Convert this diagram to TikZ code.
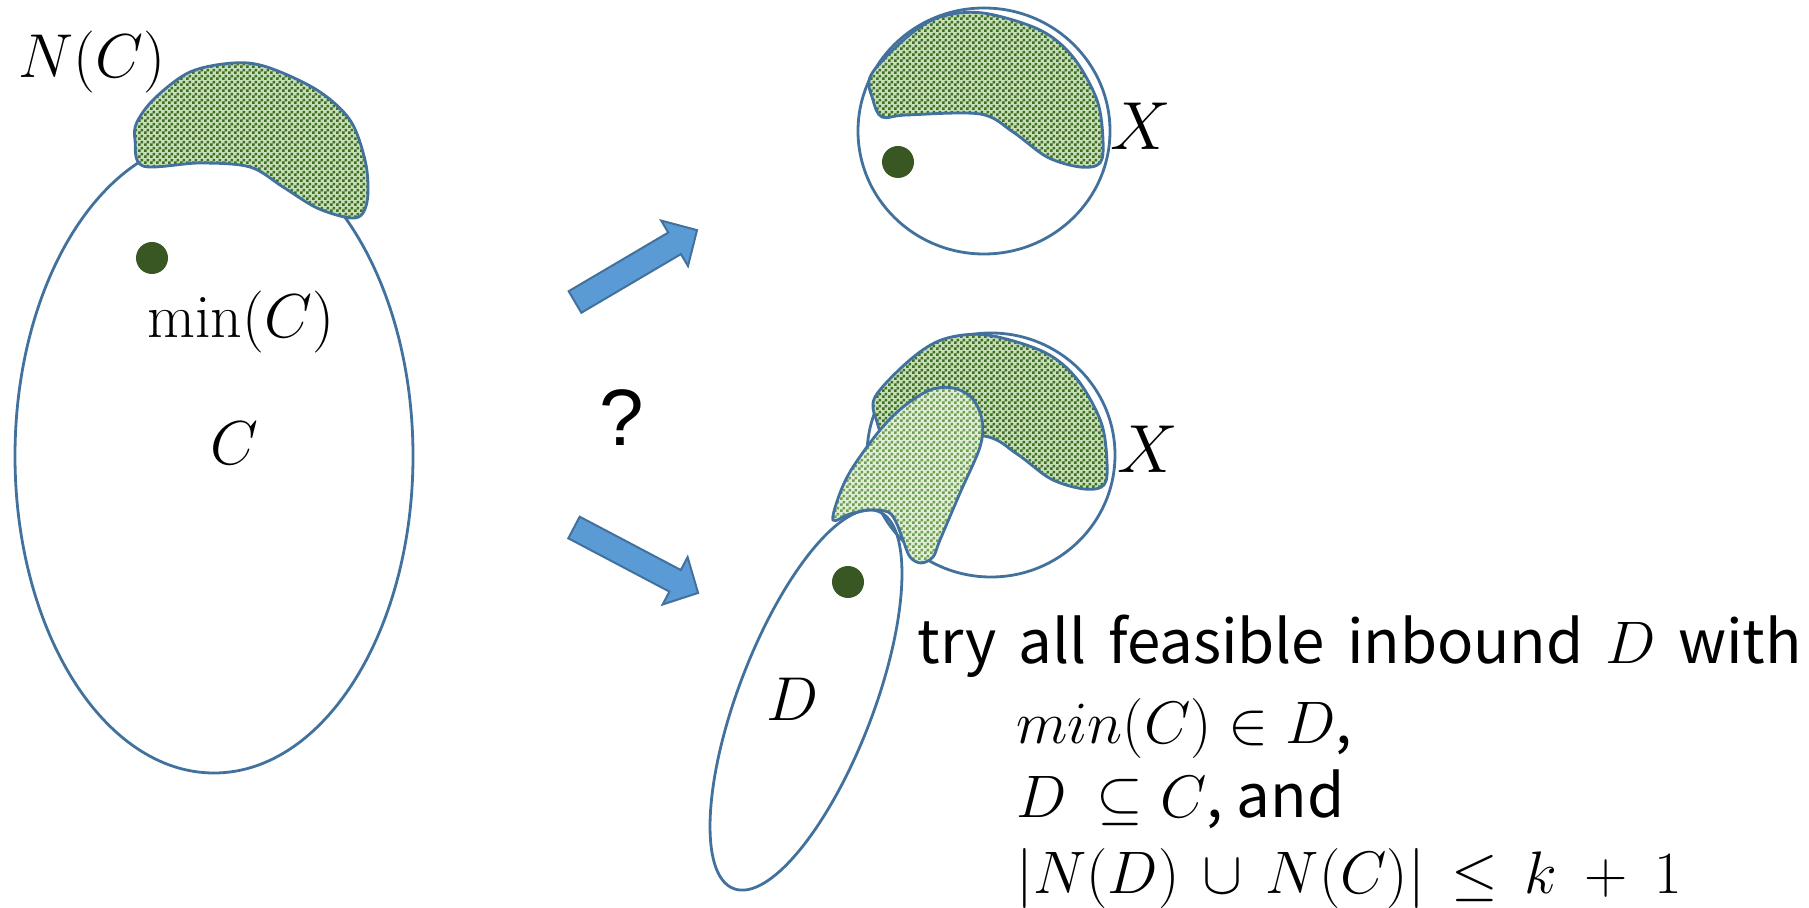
\RequirePackage{fix-cm}
\documentclass[tikz,border=0pt]{standalone}
\usepackage{fontspec}
\usetikzlibrary{patterns}
\newfontfamily\txtfont{Noto Sans CJK JP}
\newfontfamily\qfont{Liberation Sans}
\definecolor{edge}{RGB}{65,113,156}
\definecolor{arrfill}{RGB}{91,155,213}
\definecolor{dotc}{RGB}{56,87,35}
\definecolor{hatch}{RGB}{60,112,32}
\definecolor{hatchbg}{RGB}{200,222,185}
\definecolor{hatchlight}{RGB}{110,160,80}
\definecolor{hatchlightbg}{RGB}{225,238,215}
\pgfdeclarepatternformonly{checker}{\pgfqpoint{0pt}{0pt}}{\pgfqpoint{3pt}{3pt}}{\pgfqpoint{3pt}{3pt}}{%
  \pgfpathrectangle{\pgfqpoint{0pt}{0pt}}{\pgfqpoint{1.5pt}{1.5pt}}%
  \pgfpathrectangle{\pgfqpoint{1.5pt}{1.5pt}}{\pgfqpoint{1.5pt}{1.5pt}}%
  \pgfusepath{fill}}
\tikzset{
  outline/.style={draw=edge, line width=1.4pt},
  blob/.style={outline, preaction={fill=hatchbg}, pattern=checker, pattern color=hatch},
  lightblob/.style={outline, preaction={fill=hatchlightbg}, pattern=checker, pattern color=hatchlight},
  bigarrow/.style={draw=edge, line width=1pt, fill=arrfill, line join=miter},
  dot/.style={fill=dotc},
  lbl/.style={font=\fontsize{31}{37}\selectfont, inner sep=0pt},
  xlbl/.style={font=\fontsize{34}{40}\selectfont, inner sep=0pt},
  txt/.style={font=\txtfont\fontsize{30}{36}\selectfont, inner sep=0pt, anchor=base west},
}
\begin{document}
\begin{tikzpicture}[x=0.5pt,y=-0.5pt]
\useasboundingbox (0,0) rectangle (1809,908);
% left: C and N(C)
\draw[outline] (214,456) ellipse [x radius=99.5pt, y radius=158.5pt];
\draw[blob] plot[smooth cycle, tension=0.55] coordinates {
  (137,122) (135,140) (143,166) (200,163) (250,167) (283,187) (317,208)
  (350,218) (363,213) (368,193) (365,160) (350,120) (317,90) (267,67)
  (233,63) (190,72) (155,98)};
\fill[dot] (152,258) circle [radius=8pt];
\node[lbl, anchor=base west] (nc) at (18,78) {$N(C)$};
\node[lbl, anchor=base west] (minc) at (147,338) {$\min(C)$};
\node[lbl, anchor=base] (clbl) at (234,465) {$C$};
% arrows and question mark
\draw[bigarrow, shift={(575,302)}, rotate=30.5]
  (0,-12.5) -- (115.6,-12.5) -- (115.6,-26.4) -- (141.6,0) -- (115.6,26.4) -- (115.6,12.5) -- (0,12.5) -- cycle;
\draw[bigarrow, shift={(574,527.5)}, rotate=-27.8]
  (0,-12.2) -- (114.3,-12.2) -- (114.3,-26.8) -- (140.3,0) -- (114.3,26.8) -- (114.3,12.2) -- (0,12.2) -- cycle;
\node[inner sep=0pt, font=\qfont\fontsize{40}{48}\selectfont] (q) at (622,418) {?};
% top right X
\draw[outline] (984,131) ellipse [x radius=63pt, y radius=61.5pt];
\draw[blob] plot[smooth cycle, tension=0.55] coordinates {
  (871,75) (873,100) (882,117) (907,115) (980,114) (1013,132) (1047,157)
  (1080,167) (1100,163) (1103,140) (1097,100) (1073,57) (1040,30) (983,13)
  (940,17) (907,37)};
\fill[dot] (898,162) circle [radius=8pt];
\node[xlbl, anchor=base west] (x1) at (1110,150) {$X$};
% bottom right X and D
\draw[outline] (991,455) ellipse [x radius=62pt, y radius=61pt];
\begin{scope}[shift={(4,322)}]
\draw[blob] plot[smooth cycle, tension=0.55] coordinates {
  (871,75) (873,100) (882,117) (907,115) (980,114) (1013,132) (1047,157)
  (1080,167) (1100,163) (1103,140) (1097,100) (1073,57) (1040,30) (983,13)
  (940,17) (907,37)};
\end{scope}
\draw[lightblob] plot[smooth cycle, tension=0.55] coordinates {
  (953,388) (972,398) (982,420) (980,447) (960,493) (940,540) (933,557)
  (921,563) (910,557) (903,540) (896,522) (888,512) (870,510) (850,514)
  (833,520) (840,493) (853,467) (880,430) (903,407) (930,390)};
\draw[outline, rotate around={69:(806,700)}] (806,700) ellipse [x radius=101pt, y radius=33.75pt];
\fill[dot] (848,582) circle [radius=8pt];
\node[lbl, anchor=base] (dlbl) at (793,720) {$D$};
\node[xlbl, anchor=base west] (x2) at (1117,473) {$X$};
% text
\node[txt] (t1) at (917,663) {\spaceskip=11pt\relax try all feasible inbound $D$ with};
\node[txt] (t2) at (1016,743) {$min(C)\in D$,};
\node[txt] (t3) at (1016,817) {$D\ \subseteq C$, and};
\node[txt] (t4) at (1016,893) {$|N(D)\,\cup\, N(C)|\,\le\, k\ +\ 1$};
\end{tikzpicture}
\end{document}
